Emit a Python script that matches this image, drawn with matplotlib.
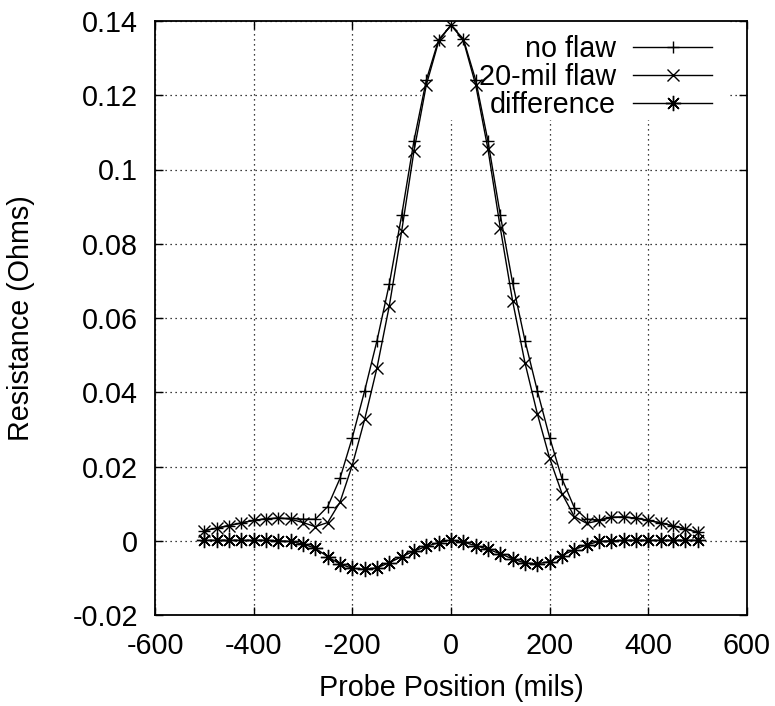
import matplotlib
matplotlib.use("Agg")
import matplotlib.pyplot as plt
from matplotlib.patches import Rectangle
from matplotlib.ticker import FuncFormatter, MultipleLocator

plt.rcParams['font.family'] = ['Liberation Sans', 'DejaVu Sans']
plt.rcParams['axes.unicode_minus'] = False

# probe positions (mils)
position = [-500, -475, -450, -425, -400, -375, -350, -325, -300, -275,
            -250, -225, -200, -175, -150, -125, -100, -75, -50, -25,
            0, 25, 50, 75, 100, 125, 150, 175, 200, 225,
            250, 275, 300, 325, 350, 375, 400, 425, 450, 475, 500]

no_flaw = [0.0027, 0.0034, 0.0041, 0.0048, 0.0055, 0.0059, 0.0061, 0.0060, 0.0058, 0.0058,
           0.0092, 0.0168, 0.0278, 0.0404, 0.0539, 0.0692, 0.0877, 0.1078, 0.1241, 0.1350,
           0.1388, 0.1352, 0.1241, 0.1076, 0.0877, 0.0694, 0.0539, 0.0404, 0.0278, 0.0167,
           0.0089, 0.0058, 0.0056, 0.0063, 0.0064, 0.0061, 0.0055, 0.0048, 0.0040, 0.0032, 0.0023]

flaw_20mil = [0.0027, 0.0034, 0.0041, 0.0048, 0.0055, 0.0059, 0.0061, 0.0058, 0.0049, 0.0038,
              0.0049, 0.0104, 0.0204, 0.0327, 0.0466, 0.0633, 0.0834, 0.1050, 0.1228, 0.1345,
              0.1390, 0.1348, 0.1228, 0.1054, 0.0842, 0.0645, 0.0479, 0.0342, 0.0222, 0.0127,
              0.0065, 0.0047, 0.0054, 0.0063, 0.0064, 0.0061, 0.0055, 0.0048, 0.0040, 0.0032, 0.0023]

difference = [0.0001, 0.0001, 0.0001, 0.0001, 0.0001, 0.0001, 0.0000, -0.0002, -0.0009, -0.0020,
              -0.0043, -0.0063, -0.0074, -0.0077, -0.0073, -0.0059, -0.0043, -0.0028, -0.0015, -0.0005,
              0.0002, -0.0004, -0.0013, -0.0023, -0.0035, -0.0049, -0.0060, -0.0062, -0.0056, -0.0040,
              -0.0024, -0.0011, -0.0002, 0.0000, 0.0001, 0.0001, 0.0001, 0.0001, 0.0001, 0.0001, 0.0001]

fs = 20.7

fig = plt.figure(figsize=(7.75, 7.06), dpi=100)
ax = fig.add_axes([155 / 775, 1 - 615 / 706, 592 / 775, 594 / 706])

line_kw = dict(color='black', lw=1.0, markeredgewidth=1.0, zorder=3)
ax.plot(position, no_flaw, marker='+', markersize=9, label='no flaw', **line_kw)
ax.plot(position, flaw_20mil, marker='x', markersize=8, label='20-mil flaw', **line_kw)
ax.plot(position, difference, marker=(8, 2, 0), markersize=11, label='difference', **line_kw)

ax.set_xlim(-600, 600)
ax.set_ylim(-0.02, 0.14)
ax.xaxis.set_major_locator(MultipleLocator(200))
ax.yaxis.set_major_locator(MultipleLocator(0.02))
ax.yaxis.set_major_formatter(FuncFormatter(lambda v, p: '%g' % round(v, 4)))
ax.xaxis.set_major_formatter(FuncFormatter(lambda v, p: '%g' % round(v)))

ax.grid(True, color='black', linestyle=(0, (1, 3)), linewidth=0.9, zorder=1)
ax.set_axisbelow(True)
ax.tick_params(direction='in', length=6, width=1, top=True, right=True,
               labelsize=fs, pad=12)
for s in ax.spines.values():
    s.set_linewidth(1.3)

# blank area behind the key, like gnuplot does
ax.add_patch(Rectangle((0.449, 0.833), 0.522, 0.167, transform=ax.transAxes,
                       facecolor='white', edgecolor='none', zorder=2))

ax.legend(loc='upper right', bbox_to_anchor=(0.975, 1.011), frameon=False,
          markerfirst=False, fontsize=fs, handlelength=2.75,
          handletextpad=0.6, labelspacing=0.0, borderpad=0.2)

ax.set_xlabel('Probe Position (mils)', fontsize=fs, labelpad=10)
ax.set_ylabel('Resistance (Ohms)', fontsize=fs, labelpad=27)

fig.savefig('out.png', dpi=100)
